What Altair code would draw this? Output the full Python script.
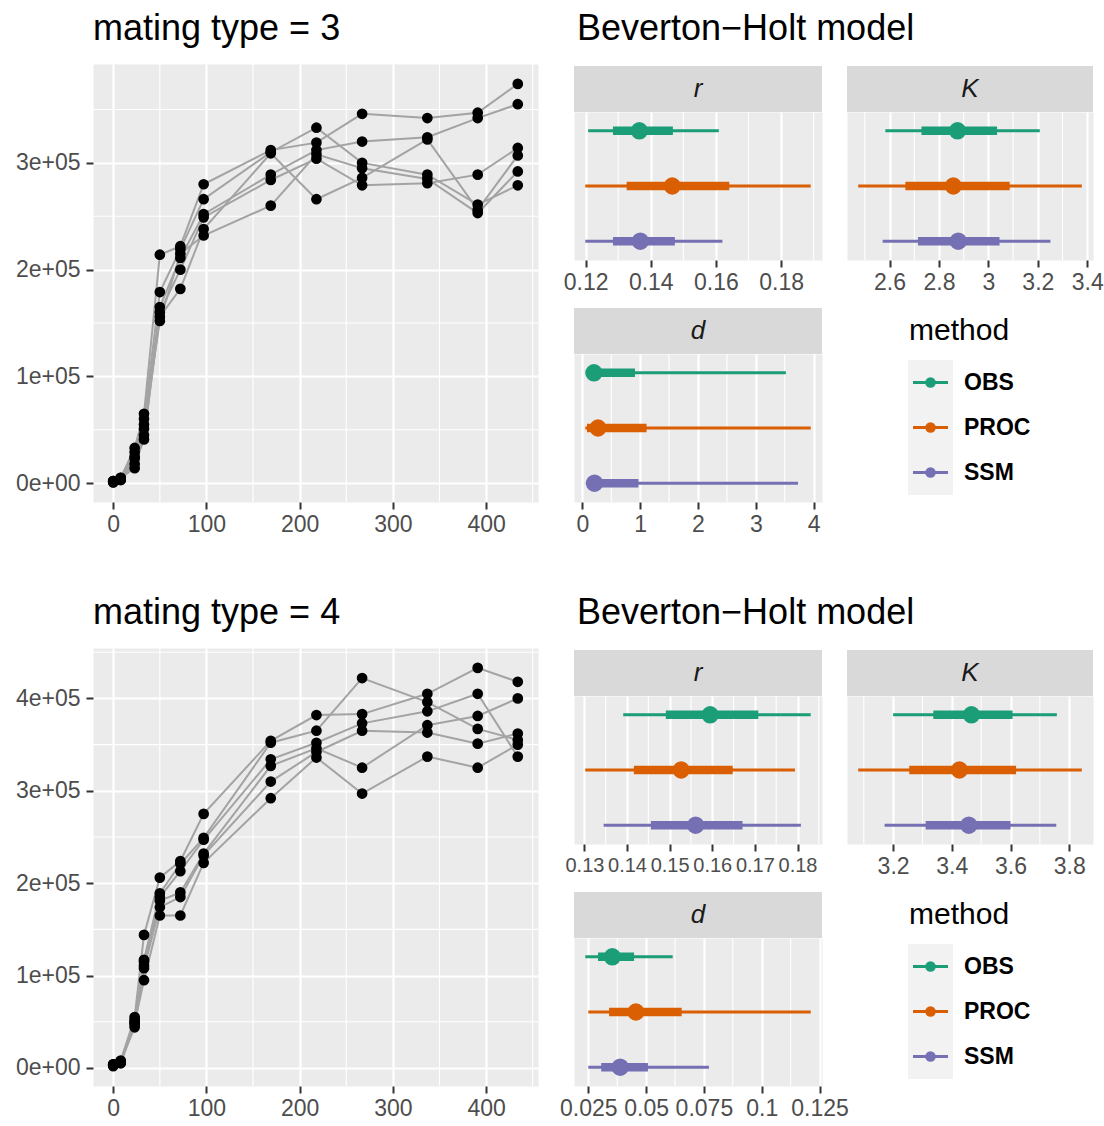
import altair as alt
import pandas as pd

FONT = "Liberation Sans"
METHODS = ["OBS", "PROC", "SSM"]
COLORS = ["#1B9E77", "#D95F02", "#7570B3"]

# ---------------- growth curves (counts) ----------------
times = [0, 8, 23, 33, 50, 72, 97, 169, 218, 267, 337, 391, 434]

mt3_reps = [
    [2000, 5000, 33000, 65000, 214000, 222000, 280000, 312000, 319000, 346000, 342000, 347000, 374000],
    [1000, 4000, 29000, 60000, 179000, 219000, 266000, 310000, 333000, 300000, 289000, 261000, 279000],
    [1000, 3000, 23000, 51000, 165000, 211000, 252000, 289000, 312000, 320000, 324000, 342000, 355000],
    [2000, 4000, 18000, 41000, 160000, 200000, 249000, 284000, 304000, 279000, 281000, 289000, 314000],
    [1000, 5000, 14000, 45000, 156000, 182000, 238000, 309000, 266000, 286000, 322000, 256000, 307000],
    [2000, 3000, 25000, 55000, 152000, 215000, 232000, 260000, 308000, 295000, 285000, 253000, 292000],
]
mt4_reps = [
    [3000, 7000, 55000, 144000, 206000, 224000, 275000, 354000, 382000, 383000, 405000, 433000, 418000],
    [4000, 8000, 52000, 117000, 189000, 221000, 249000, 352000, 365000, 422000, 396000, 367000, 355000],
    [2000, 6000, 50000, 115000, 185000, 213000, 247000, 334000, 352000, 373000, 386000, 405000, 337000],
    [3000, 5000, 47000, 111000, 181000, 190000, 232000, 327000, 346000, 325000, 371000, 381000, 400000],
    [4000, 7000, 44000, 108000, 174000, 185000, 230000, 310000, 342000, 365000, 363000, 351000, 362000],
    [3000, 6000, 49000, 95000, 165000, 165000, 222000, 292000, 336000, 297000, 337000, 325000, 350000],
]

time_major = [0, 100, 200, 300, 400]
time_minor = [50, 150, 250, 350, 450]
mt3_y_major = [0, 100000, 200000, 300000]
mt3_y_minor = [50000, 150000, 250000, 350000]
mt4_y_major = [0, 100000, 200000, 300000, 400000]
mt4_y_minor = [50000, 150000, 250000, 350000, 450000]

# ---------------- Beverton-Holt posterior summaries ----------------
# per method (OBS, PROC, SSM): lo95, lo66, median, hi66, hi95
r3_lo95 = [0.1208, 0.1199, 0.1199]
r3_lo66 = [0.1284, 0.1326, 0.1284]
r3_med = [0.1365, 0.1466, 0.1368]
r3_hi66 = [0.1468, 0.1641, 0.1474]
r3_hi95 = [0.1609, 0.1891, 0.1620]

K3_lo95 = [2.583, 2.473, 2.572]
K3_lo66 = [2.729, 2.664, 2.715]
K3_med = [2.875, 2.858, 2.878]
K3_hi66 = [3.035, 3.086, 3.045]
K3_hi95 = [3.208, 3.378, 3.251]

d3_lo95 = [0.06, 0.05, 0.06]
d3_lo66 = [0.10, 0.08, 0.10]
d3_med = [0.20, 0.27, 0.21]
d3_hi66 = [0.91, 1.11, 0.97]
d3_hi95 = [3.52, 3.95, 3.73]

r4_lo95 = [0.1391, 0.1302, 0.1345]
r4_lo66 = [0.1491, 0.1416, 0.1456]
r4_med = [0.1595, 0.1527, 0.1561]
r4_hi66 = [0.1708, 0.1648, 0.1671]
r4_hi95 = [0.1831, 0.1794, 0.1808]

K4_lo95 = [3.200, 3.081, 3.171]
K4_lo66 = [3.337, 3.255, 3.311]
K4_med = [3.467, 3.426, 3.458]
K4_hi66 = [3.607, 3.619, 3.600]
K4_hi95 = [3.758, 3.843, 3.756]

d4_lo95 = [0.0237, 0.0250, 0.0250]
d4_lo66 = [0.0292, 0.0340, 0.0306]
d4_med = [0.0354, 0.0456, 0.0388]
d4_hi66 = [0.0448, 0.0654, 0.0508]
d4_hi95 = [0.0615, 0.1212, 0.0772]

r3_major, r3_minor = [0.12, 0.14, 0.16, 0.18], [0.13, 0.15, 0.17, 0.19]
K3_major, K3_minor = [2.6, 2.8, 3.0, 3.2, 3.4], [2.5, 2.7, 2.9, 3.1, 3.3]
d3_major, d3_minor = [0, 1, 2, 3, 4], [0.5, 1.5, 2.5, 3.5]
r4_major, r4_minor = [0.13, 0.14, 0.15, 0.16, 0.17, 0.18], [0.135, 0.145, 0.155, 0.165, 0.175, 0.185]
K4_major, K4_minor = [3.2, 3.4, 3.6, 3.8], [3.1, 3.3, 3.5, 3.7]
d4_major, d4_minor = [0.025, 0.05, 0.075, 0.1, 0.125], [0.0375, 0.0625, 0.0875, 0.1125]

# ---------------- styling ----------------
BG = "#EBEBEB"
GRID_MAJOR = 2.2
GRID_MINOR = 1.1
LABEL_SIZE = 23
TITLE_SIZE = 36
TITLE_GAP = 24.3      # title baseline above the panel / strip top
STRIP_H = 46
PANEL_W_R = 248
PANEL_W_K = 246
PANEL_H = 148
SPACER = 26

color_scale = alt.Scale(domain=METHODS, range=COLORS)


def axis(values, fmt=None, label_expr=None, pad=4, size=LABEL_SIZE):
    kw = dict(values=values, title=None, grid=True, gridColor="white", gridWidth=GRID_MAJOR,
              domain=False, tickColor="#333333", tickSize=7, tickWidth=2, labelOverlap=False,
              labelFont=FONT, labelFontSize=size, labelColor="#4D4D4D", labelPadding=pad)
    if fmt:
        kw["format"] = fmt
    if label_expr:
        kw["labelExpr"] = label_expr
    return alt.Axis(**kw)


def title_text(df, x, y):
    return alt.Chart(df).mark_text(
        align="left", baseline="alphabetic", font=FONT, fontSize=TITLE_SIZE,
        color="black").encode(x=alt.value(x), y=alt.value(y), text="t:N")


def growth_chart(reps, title, y_major, y_minor):
    rows = []
    for i, rep in enumerate(reps):
        for t, v in zip(times, rep):
            rows.append({"time": t, "count": v, "rep": i + 1})
    df = pd.DataFrame(rows)
    vmin, vmax = df["count"].min(), df["count"].max()
    vpad = 0.05 * (vmax - vmin)
    tpad = 0.05 * (max(times) - min(times))
    xs = alt.Scale(domain=[min(times) - tpad, max(times) + tpad], nice=False, zero=False)
    ys = alt.Scale(domain=[vmin - vpad, vmax + vpad], nice=False, zero=False)
    xa = axis(time_major)
    ya = axis(y_major, label_expr="datum.value == 0 ? '0e+00' : format(datum.value / 100000, 'd') + 'e+05'", pad=6)

    minor_x = alt.Chart(pd.DataFrame({"tm": time_minor})).mark_rule(
        color="white", strokeWidth=GRID_MINOR).encode(x=alt.X("tm:Q", scale=xs, axis=xa))
    minor_y = alt.Chart(pd.DataFrame({"cm": y_minor})).mark_rule(
        color="white", strokeWidth=GRID_MINOR).encode(y=alt.Y("cm:Q", scale=ys, axis=ya))
    base = alt.Chart(df).encode(
        x=alt.X("time:Q", scale=xs, axis=xa),
        y=alt.Y("count:Q", scale=ys, axis=ya),
    )
    lines = base.mark_line(color="#A3A3A3", strokeWidth=2).encode(detail="rep:N", order="time:Q")
    pts = base.mark_circle(size=115, color="black", opacity=1)
    ttl = title_text(pd.DataFrame({"t": [title]}), 0, -TITLE_GAP)
    return alt.layer(minor_x, minor_y, lines, pts, ttl).properties(width=445, height=438)


def forest_chart(label, lo95, lo66, med, hi66, hi95, major, minor, width, label_size=LABEL_SIZE):
    df = pd.DataFrame({"method": METHODS, "lo95": lo95, "lo66": lo66, "med": med,
                       "hi66": hi66, "hi95": hi95})
    lo, hi = min(lo95), max(hi95)
    pad = 0.05 * (hi - lo)
    xs = alt.Scale(domain=[lo - pad, hi + pad], nice=False, zero=False)
    xa = axis(major, fmt=".3~g", size=label_size)
    yenc = alt.Y("method:N", scale=alt.Scale(type="point", domain=METHODS, padding=0.34), axis=None)
    col = alt.Color("method:N", scale=color_scale, legend=None)

    sdf = pd.DataFrame({"label": [label]})
    minor_layer = alt.Chart(pd.DataFrame({"mv": minor})).mark_rule(
        color="white", strokeWidth=GRID_MINOR).encode(x=alt.X("mv:Q", scale=xs, axis=xa))
    strip = alt.Chart(sdf).mark_rect(fill="#D9D9D9").encode(
        x=alt.value(0), x2=alt.value(width), y=alt.value(-STRIP_H), y2=alt.value(0))
    strip_text = alt.Chart(sdf).mark_text(
        font=FONT, fontSize=26, fontStyle="italic", color="#1A1A1A",
        align="center", baseline="middle").encode(
        x=alt.value(width / 2), y=alt.value(-STRIP_H / 2), text="label:N")
    thin = alt.Chart(df).mark_rule(strokeWidth=3).encode(
        x=alt.X("lo95:Q", scale=xs, axis=xa), x2="hi95:Q", y=yenc, color=col)
    thick = alt.Chart(df).mark_rule(strokeWidth=8.5).encode(
        x=alt.X("lo66:Q", scale=xs, axis=xa), x2="hi66:Q", y=yenc, color=col)
    pts = alt.Chart(df).mark_circle(size=300, opacity=1).encode(
        x=alt.X("med:Q", scale=xs, axis=xa), y=yenc, color=col)
    return alt.layer(minor_layer, strip, strip_text, thin, thick, pts).properties(
        width=width, height=PANEL_H)


def legend_chart():
    ldf = pd.DataFrame({"method": METHODS})
    tdf = pd.DataFrame({"t": ["method"]})
    ly = alt.Y("method:N", scale=alt.Scale(type="point", domain=METHODS, range=[28.5, 118.5], padding=0),
               axis=None)
    col = alt.Color("method:N", scale=color_scale, legend=None)
    box = alt.Chart(tdf).mark_rect(fill="#F2F2F2").encode(
        x=alt.value(0), x2=alt.value(45), y=alt.value(6), y2=alt.value(141))
    segs = alt.Chart(ldf).mark_rule(strokeWidth=3).encode(
        x=alt.value(5), x2=alt.value(40), y=ly, color=col)
    dots = alt.Chart(ldf).mark_circle(size=110, opacity=1).encode(
        x=alt.value(22.5), y=ly, color=col)
    labels = alt.Chart(ldf).mark_text(
        align="left", baseline="middle", font=FONT, fontSize=23, fontWeight="bold",
        color="black").encode(x=alt.value(56), y=ly, text="method:N")
    ttl = alt.Chart(tdf).mark_text(
        align="left", baseline="alphabetic", font=FONT, fontSize=30, color="black").encode(
        x=alt.value(1), y=alt.value(-14), text="t:N")
    return alt.layer(box, segs, dots, labels, ttl).properties(
        width=140, height=PANEL_H, view=alt.ViewBackground(fill="white", stroke="transparent"))


def block_title(text):
    tdf = pd.DataFrame({"t": [text]})
    spacer = alt.Chart(tdf).mark_rect(fill="white").encode(
        x=alt.value(-SPACER), x2=alt.value(-SPACER + 1), y=alt.value(-2), y2=alt.value(-1))
    return alt.layer(spacer, title_text(tdf, 3, -TITLE_GAP)).properties(
        width=1, height=1, view=alt.ViewBackground(fill="white", stroke="transparent", strokeWidth=0))


def model_block(r, K, d, legend_spacing, r_label_size=LABEL_SIZE):
    top = alt.hconcat(
        forest_chart("r", *r, PANEL_W_R, label_size=r_label_size),
        forest_chart("K", *K, PANEL_W_K),
        spacing=23,
    )
    bottom = alt.hconcat(
        forest_chart("d", *d, PANEL_W_R),
        legend_chart(),
        spacing=legend_spacing,
    )
    panels = alt.vconcat(top, bottom, spacing=12)
    return alt.vconcat(block_title("Beverton\u2212Holt model"), panels, spacing=0)


row3 = alt.hconcat(
    growth_chart(mt3_reps, "mating type = 3", mt3_y_major, mt3_y_minor),
    model_block(
        (r3_lo95, r3_lo66, r3_med, r3_hi66, r3_hi95, r3_major, r3_minor),
        (K3_lo95, K3_lo66, K3_med, K3_hi66, K3_hi95, K3_major, K3_minor),
        (d3_lo95, d3_lo66, d3_med, d3_hi66, d3_hi95, d3_major, d3_minor),
        84,
    ),
    spacing=8,
)
row4 = alt.hconcat(
    growth_chart(mt4_reps, "mating type = 4", mt4_y_major, mt4_y_minor),
    model_block(
        (r4_lo95, r4_lo66, r4_med, r4_hi66, r4_hi95, r4_major, r4_minor),
        (K4_lo95, K4_lo66, K4_med, K4_hi66, K4_hi95, K4_major, K4_minor),
        (d4_lo95, d4_lo66, d4_med, d4_hi66, d4_hi95, d4_major, d4_minor),
        58,
        r_label_size=20,
    ),
    spacing=8,
)

chart = alt.vconcat(row3, row4, spacing=57).properties(
    padding={"left": 14, "top": 10, "right": 0, "bottom": 0},
    background="white",
).configure_view(fill=BG, stroke="transparent")

chart.save("out.html", embed_options={"renderer": "svg", "actions": False})
